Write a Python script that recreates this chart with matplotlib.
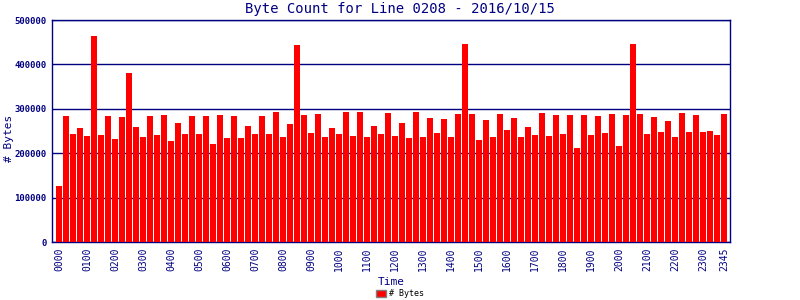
import matplotlib
matplotlib.use("Agg")
import matplotlib.pyplot as plt
from matplotlib.patches import Patch

# 15-minute intervals, 0000 .. 2345
times = ["%02d%02d" % (h, m) for h in range(24) for m in (0, 15, 30, 45)]

byte_counts = [
    127000, 284000, 243000, 257000, 239000, 464000, 241000, 284000,
    232000, 281500, 380600, 259000, 236500, 284000, 241000, 286000,
    227500, 268000, 243000, 284000, 243000, 284000, 220700, 286000,
    234000, 284000, 234000, 261000, 243000, 284000, 243000, 293000,
    236500, 266000, 444400, 286000, 245500, 288000, 236500, 257000,
    243000, 293000, 239000, 293000, 236500, 261000, 243000, 290500,
    239000, 268000, 234000, 293000, 236500, 279000, 245500, 277000,
    236500, 288000, 445900, 288000, 229700, 275000, 236500, 288000,
    252000, 279000, 236500, 259000, 241000, 290500, 239000, 286000,
    243000, 286000, 211700, 286000, 241000, 284000, 245500, 288000,
    216000, 286000, 445900, 288000, 243000, 281500, 247700, 272500,
    236500, 290500, 247700, 286000, 247700, 250000, 241000, 288000,
]

title = "Byte Count for Line 0208 - 2016/10/15"
navy = "#000080"
mono = "DejaVu Sans Mono"

fig = plt.figure(figsize=(8, 3), dpi=100)
ax = fig.add_axes([52 / 800, 1 - 242 / 300, 678 / 800, 222 / 300])

x = list(range(len(times)))
ax.bar(x, byte_counts, width=0.86, color="#ff0000", zorder=3)

ax.set_xlim(-1, 95.86)
ax.set_ylim(0, 500000)
ax.set_yticks([0, 100000, 200000, 300000, 400000, 500000])
ax.set_yticklabels(["0", "100000", "200000", "300000", "400000", "500000"],
                   fontsize=6.5, fontweight="bold", family=mono, color=navy)
tick_pos = list(range(0, 96, 4)) + [95]
ax.set_xticks(tick_pos)
ax.set_xticklabels([times[i] for i in tick_pos], rotation=90,
                   fontsize=7, family=mono, color=navy)
ax.tick_params(length=0, pad=4)

ax.grid(axis="y", color=navy, linewidth=1, zorder=1)
for s in ax.spines.values():
    s.set_color(navy)
    s.set_linewidth(1)

ax.set_xlabel("Time", family=mono, fontsize=8, color=navy, labelpad=4)
fig.text(9 / 800, 1 - 138 / 300, "# Bytes", rotation=90, ha="center", va="center",
         family=mono, fontsize=8, color=navy)
fig.text(0.5, 0.97, title, ha="center", va="center", family=mono,
         fontsize=10, color=navy)

fig.legend(handles=[Patch(facecolor="#ff0000", edgecolor="#808080", label="# Bytes")],
           loc="center", bbox_to_anchor=(0.5, 0.02), frameon=False,
           prop={"family": mono, "size": 6}, handlelength=1.2, handleheight=0.8,
           handletextpad=0.4)

fig.savefig("out.png", dpi=100)
